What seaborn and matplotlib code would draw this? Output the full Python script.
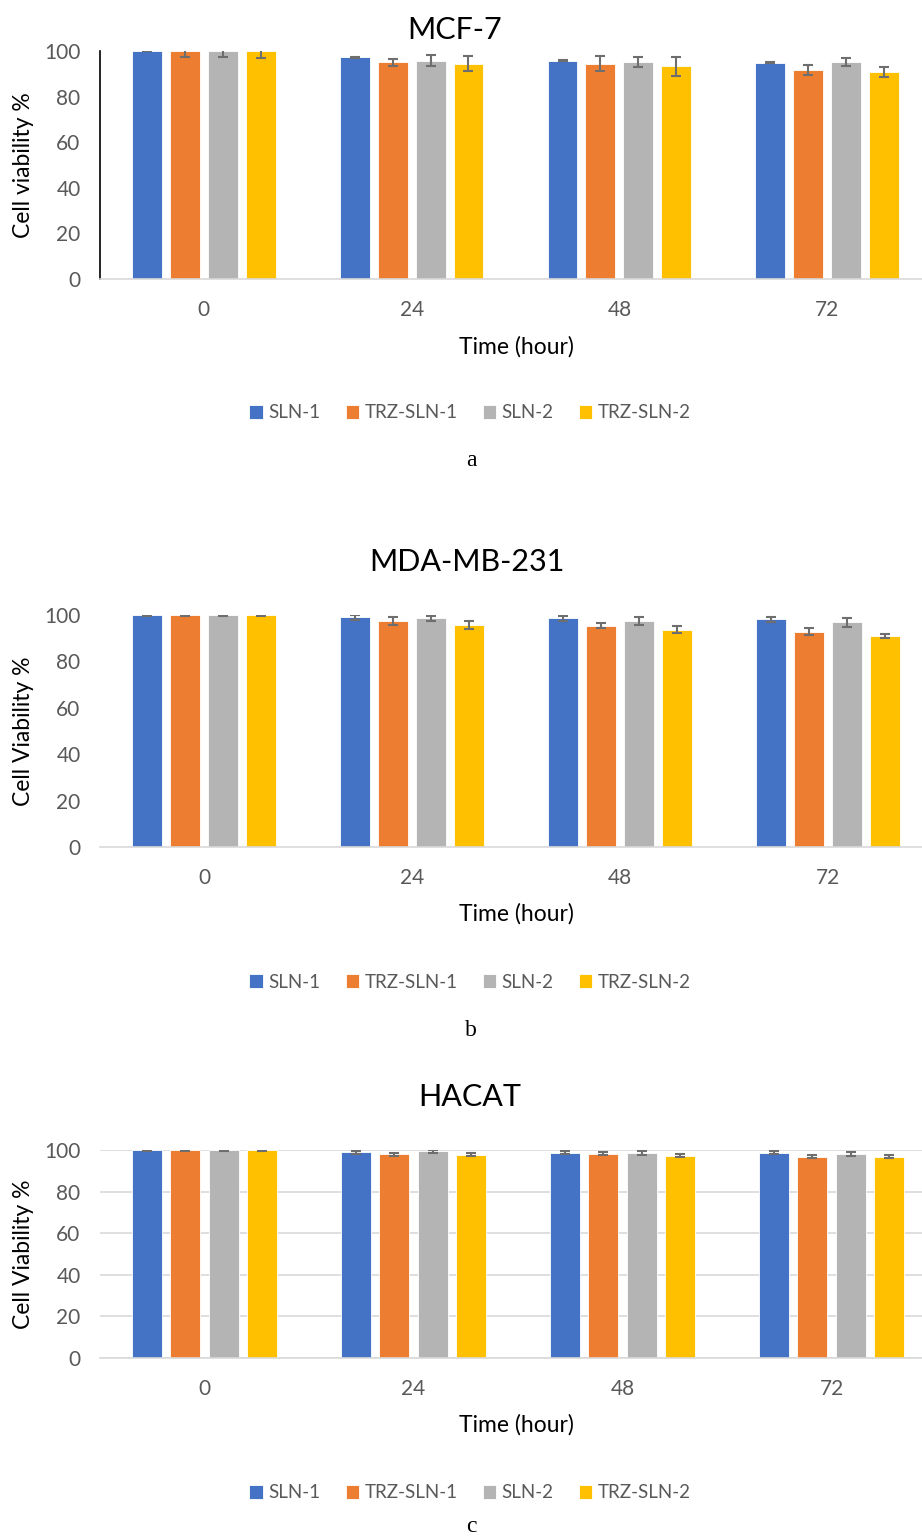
import numpy as np
import pandas as pd
import matplotlib
matplotlib.use("Agg")
import matplotlib.pyplot as plt
import seaborn as sns

# ---- data ----
times = ["0", "24", "48", "72"]
samples = ["SLN-1", "TRZ-SLN-1", "SLN-2", "TRZ-SLN-2"]
colors = ["#4472C4", "#ED7D31", "#B4B4B4", "#FFC000"]

# MCF-7
mcf7_mean = {
    "SLN-1": [100, 97.2, 95.8, 94.8],
    "TRZ-SLN-1": [100, 95.0, 94.5, 91.8],
    "SLN-2": [100, 95.8, 95.2, 95.3],
    "TRZ-SLN-2": [100, 94.5, 93.3, 90.8],
}
mcf7_sd = {
    "SLN-1": [0.2, 0.2, 0.2, 0.2],
    "TRZ-SLN-1": [2.5, 1.5, 3.4, 2.2],
    "SLN-2": [2.5, 2.3, 2.3, 1.7],
    "TRZ-SLN-2": [3.2, 3.3, 4.2, 2.2],
}

# MDA-MB-231
mda_mean = {
    "SLN-1": [100, 99.0, 98.6, 98.1],
    "TRZ-SLN-1": [100, 97.4, 95.3, 92.8],
    "SLN-2": [100, 98.6, 97.4, 96.8],
    "TRZ-SLN-2": [100, 95.7, 93.6, 91.1],
}
mda_sd = {
    "SLN-1": [0.4, 1.0, 1.0, 1.2],
    "TRZ-SLN-1": [0.4, 1.6, 1.1, 1.6],
    "SLN-2": [0.4, 1.1, 1.6, 2.0],
    "TRZ-SLN-2": [0.4, 1.9, 1.5, 0.9],
}

# HACAT
hacat_mean = {
    "SLN-1": [100, 98.9, 98.7, 98.7],
    "TRZ-SLN-1": [100, 97.9, 98.1, 96.8],
    "SLN-2": [100, 99.4, 98.4, 98.1],
    "TRZ-SLN-2": [100, 97.8, 97.3, 96.8],
}
hacat_sd = {
    "SLN-1": [0.6, 0.8, 0.6, 0.6],
    "TRZ-SLN-1": [0.6, 0.7, 0.7, 0.7],
    "SLN-2": [0.6, 0.7, 1.0, 0.8],
    "TRZ-SLN-2": [0.6, 0.7, 0.7, 0.6],
}

sns.set_style("white")
plt.rcParams["font.family"] = ["Lato", "DejaVu Sans"]

W, H = 922, 1537
fig = plt.figure(figsize=(W / 100, H / 100), dpi=100)

TICK_GRAY = "#595959"
LINE_GRAY = "#D9D9D9"


def long_df(means):
    rows = []
    for s in samples:
        for t, v in zip(times, means[s]):
            rows.append({"time": t, "sample": s, "viability": v})
    return pd.DataFrame(rows)


def px_axes(left, top, right, bottom):
    # pixel box -> figure fraction
    return fig.add_axes([left / W, 1 - bottom / H, (right - left) / W, (bottom - top) / H])


def draw_panel(means, sds, box, title, title_x, title_y, ylabel, xlab_y, leg_y,
               letter, letter_y, style):
    ax = px_axes(*box)
    df = long_df(means)
    sns.barplot(data=df, x="time", y="viability", hue="sample", palette=colors,
                order=times, hue_order=samples, errorbar=None, saturation=1,
                width=0.73, gap=0.21, ax=ax, edgecolor="white", linewidth=0.6)

    # error bars on top of the bars seaborn placed
    for cont, s in zip(ax.containers, samples):
        xs = [p.get_x() + p.get_width() / 2 for p in cont]
        ys = [p.get_height() for p in cont]
        ax.errorbar(xs, ys, yerr=sds[s], fmt="none", ecolor="#6E6E6E",
                    elinewidth=1.5, capsize=3.3, capthick=1.5, zorder=5)

    ax.set_ylim(0, 100)
    ax.set_xlim(-0.5, 3.5)
    ax.set_yticks([0, 20, 40, 60, 80, 100])
    ax.tick_params(axis="both", length=0, labelsize=15, labelcolor=TICK_GRAY)
    ax.tick_params(axis="y", pad=14)
    ax.tick_params(axis="x", pad=15)
    ax.set_xlabel("")
    ax.set_ylabel(ylabel, fontsize=16.5, color="black", labelpad=7)
    ax.get_legend().remove()

    for sp in ["top", "right"]:
        ax.spines[sp].set_visible(False)
    ax.spines["bottom"].set_color(LINE_GRAY)
    ax.spines["bottom"].set_linewidth(1.2)
    if style == "axis":
        ax.spines["left"].set_color("black")
        ax.spines["left"].set_linewidth(1.2)
    else:
        ax.spines["left"].set_visible(False)
    if style == "grid":
        ax.yaxis.grid(True, color=LINE_GRAY, linewidth=1.2)
        ax.set_axisbelow(True)

    fig.text(title_x / W, 1 - title_y / H, title, ha="center", va="center",
             fontsize=22, color="black")
    fig.text(516 / W, 1 - xlab_y / H, "Time (hour)", ha="center", va="center",
             fontsize=16.5, color="black")
    handles, labels = ax.get_legend_handles_labels()
    fig.legend(handles, labels, loc="center", bbox_to_anchor=(470 / W, 1 - leg_y / H),
               ncol=4, frameon=False, fontsize=13.5, labelcolor=TICK_GRAY,
               handlelength=0.7, handleheight=0.7, handletextpad=0.3,
               columnspacing=1.35)
    fig.text(471 / W, 1 - letter_y / H, letter, ha="center", va="center",
             fontsize=17, family="Liberation Serif", color="black")
    return ax


draw_panel(mcf7_mean, mcf7_sd, (100, 51, 931, 279), "MCF-7", 455, 30,
           "Cell viability %", 347, 413, "a", 460, "axis")
draw_panel(mda_mean, mda_sd, (100, 615, 932, 847), "MDA-MB-231", 467, 562,
           "Cell Viability %", 914, 982, "b", 1030, "plain")
draw_panel(hacat_mean, hacat_sd, (100, 1150, 936, 1358), "HACAT", 470, 1097,
           "Cell Viability %", 1425, 1493, "c", 1527, "grid")

fig.savefig("out.png", dpi=100)
